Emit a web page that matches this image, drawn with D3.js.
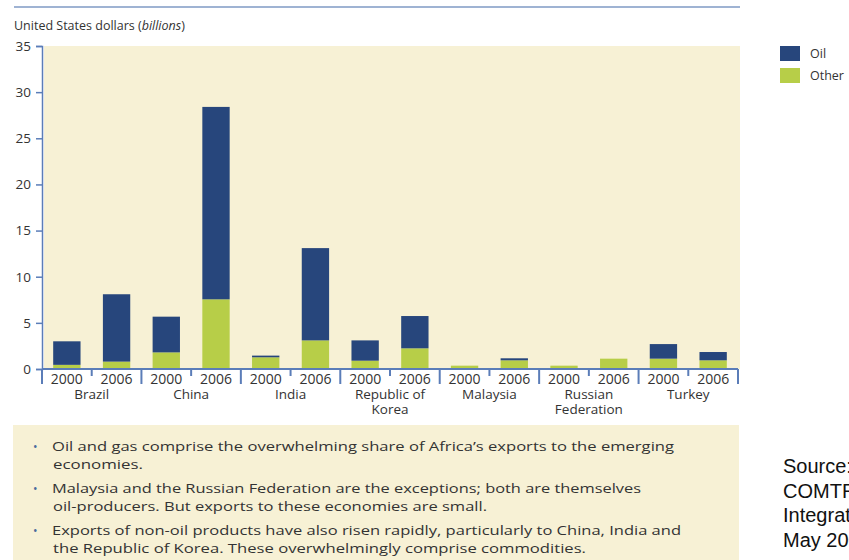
<!DOCTYPE html>
<html>
<head>
<meta charset="utf-8">
<script src="https://cdn.jsdelivr.net/npm/d3@7"></script>
<style>
  body { margin: 0; background: #fff; }
  svg { display: block; font-family: "Open Sans", sans-serif; }
</style>
</head>
<body>
<div id="chart"></div>
<script>
// Africa's exports to emerging economies, stacked other (bottom) / oil (top)
var countries = ["Brazil", "China", "India", "Republic of\nKorea", "Malaysia", "Russian\nFederation", "Turkey"];
var years = ["2000", "2006"];
// values per bar, order: country x year
var oilValues   = [2.55, 7.3, 3.87, 20.85, 0.18, 10.0, 2.2, 3.5, 0.0, 0.22, 0.0, 0.0, 1.58, 0.9];
var otherValues = [0.45, 0.8, 1.8, 7.55, 1.27, 3.1, 0.9, 2.24, 0.36, 0.94, 0.36, 1.12, 1.12, 0.94];
var yTicks = [0, 5, 10, 15, 20, 25, 30, 35];
var keys = ["Oil", "Other"];
var colors = ["#27467c", "#b7ce48"];
var bullets = [
  ["Oil and gas comprise the overwhelming share of Africa\u2019s exports to the emerging", "economies."],
  ["Malaysia and the Russian Federation are the exceptions; both are themselves", "oil-producers. But exports to these economies are small."],
  ["Exports of non-oil products have also risen rapidly, particularly to China, India and", "the Republic of Korea. These overwhelmingly comprise commodities."]
];
var bulletWidths = [[622, 90], [589, 434], [629, 533]];
var sourceLines = ["Source: UN", "COMTRADE,", "Integrated", "May 2008"];

var W = 849, H = 560;
var margin = {left: 42, right: 111, top: 46, bottom: 191};
var x0 = margin.left, x1 = 738, yTop = margin.top, yBase = H - margin.bottom; // 369

var rows = [];
countries.forEach(function(c, i) {
  years.forEach(function(yr, j) {
    var k = i * 2 + j;
    rows.push({id: c + "|" + yr, country: c, year: yr, Oil: oilValues[k], Other: otherValues[k]});
  });
});

var svg = d3.select("#chart").append("svg")
  .attr("width", W).attr("height", H);

var x = d3.scaleBand()
  .domain(rows.map(function(d) { return d.id; }))
  .range([x0, x1])
  .paddingInner(0.45)
  .paddingOuter(0.225);

var xGroup = d3.scaleBand()
  .domain(countries)
  .range([x0, x1])
  .padding(0);

var y = d3.scaleLinear()
  .domain([0, 35])
  .range([yBase, yTop]);

var color = d3.scaleOrdinal().domain(keys).range(colors);

var axisColor = "#5b7db8";
var textColor = "#333333";

// top rule
svg.append("line")
  .attr("x1", 14).attr("x2", 740).attr("y1", 7).attr("y2", 7)
  .attr("stroke", "#9fb3d3").attr("stroke-width", 2);

// title
var title = svg.append("text")
  .attr("x", 14).attr("y", 30)
  .attr("font-size", 12.5).attr("fill", textColor);
title.append("tspan").text("United States dollars (");
title.append("tspan").attr("font-style", "italic").text("billions");
title.append("tspan").text(")");

// plot background
svg.append("rect")
  .attr("x", x0 + 2).attr("y", yTop)
  .attr("width", 740 - x0 - 2).attr("height", yBase - yTop)
  .attr("fill", "#f7f1d5");

// stacked bars: other at the bottom, oil above
var stack = d3.stack().keys(["Other", "Oil"]);
var series = stack(rows);
svg.append("g").selectAll("g")
  .data(series)
  .join("g")
  .attr("fill", function(d) { return color(d.key); })
  .selectAll("rect")
  .data(function(d) { return d; })
  .join("rect")
  .attr("x", function(d) { return x(d.data.id); })
  .attr("width", x.bandwidth())
  .attr("y", function(d) { return y(d[1]); })
  .attr("height", function(d) { return y(d[0]) - y(d[1]); });

// y axis
var yAxis = svg.append("g")
  .attr("transform", "translate(" + x0 + ",0)")
  .call(d3.axisLeft(y).tickValues(yTicks).tickSize(6).tickPadding(5));
yAxis.selectAll("path, line").attr("stroke", axisColor).attr("stroke-width", 1.5);
yAxis.selectAll("text")
  .attr("font-family", "Open Sans, sans-serif")
  .attr("font-size", 13.5).attr("fill", textColor);

// x axis baseline and ticks
var xg = svg.append("g");
xg.append("line")
  .attr("x1", x0).attr("x2", x1).attr("y1", yBase).attr("y2", yBase)
  .attr("stroke", axisColor).attr("stroke-width", 2);
var bounds = countries.map(function(c) { return xGroup(c); }).concat([x1]);
xg.selectAll(".long").data(bounds).join("line")
  .attr("class", "long")
  .attr("x1", function(d) { return d; }).attr("x2", function(d) { return d; })
  .attr("y1", yBase).attr("y2", yBase + 15)
  .attr("stroke", axisColor).attr("stroke-width", 2);
xg.selectAll(".short").data(countries).join("line")
  .attr("class", "short")
  .attr("x1", function(d) { return xGroup(d) + xGroup.bandwidth() / 2; })
  .attr("x2", function(d) { return xGroup(d) + xGroup.bandwidth() / 2; })
  .attr("y1", yBase).attr("y2", yBase + 7)
  .attr("stroke", axisColor).attr("stroke-width", 2);

// year labels
xg.selectAll(".yr").data(rows).join("text")
  .attr("class", "yr")
  .attr("x", function(d) { return x(d.id) + x.bandwidth() / 2; })
  .attr("y", yBase + 15)
  .attr("text-anchor", "middle")
  .attr("font-size", 14).attr("fill", textColor)
  .text(function(d) { return d.year; });

// country labels
xg.selectAll(".ctry").data(countries).join("text")
  .attr("class", "ctry")
  .attr("text-anchor", "middle")
  .attr("font-size", 13.5).attr("fill", textColor)
  .each(function(c) {
    var t = d3.select(this);
    c.split("\n").forEach(function(line, i) {
      t.append("tspan")
        .attr("x", xGroup(c) + xGroup.bandwidth() / 2)
        .attr("y", yBase + 30 + i * 15)
        .text(line);
    });
  });

// legend
var legend = svg.append("g").attr("transform", "translate(780,46)");
keys.forEach(function(k, i) {
  legend.append("rect")
    .attr("x", 0).attr("y", i * 22)
    .attr("width", 20).attr("height", 15)
    .attr("fill", color(k));
  legend.append("text")
    .attr("x", 30).attr("y", i * 22 + 12)
    .attr("font-size", 12.5).attr("fill", textColor)
    .text(k);
});

// notes box
svg.append("rect")
  .attr("x", 13).attr("y", 425).attr("width", 726).attr("height", 140)
  .attr("fill", "#f7f1d5");
var lineY = [[451, 469], [493, 511], [535, 553]];
bullets.forEach(function(b, i) {
  svg.append("text")
    .attr("x", 33).attr("y", lineY[i][0])
    .attr("font-size", 12).attr("fill", "#4a6a9c")
    .text("\u2022");
  b.forEach(function(line, j) {
    svg.append("text")
      .attr("x", j === 0 ? 52 : 53).attr("y", lineY[i][j])
      .attr("font-size", 13.5).attr("fill", textColor)
      .attr("textLength", bulletWidths[i][j])
      .attr("lengthAdjust", "spacingAndGlyphs")
      .text(line);
  });
});

// source note (runs past the window edge)
sourceLines.forEach(function(s, i) {
  svg.append("text")
    .attr("x", 783).attr("y", 473 + i * 24.5)
    .attr("font-family", "Liberation Sans, Arial, sans-serif")
    .attr("font-size", 20).attr("fill", "#111")
    .text(s);
});
</script>
</body>
</html>
